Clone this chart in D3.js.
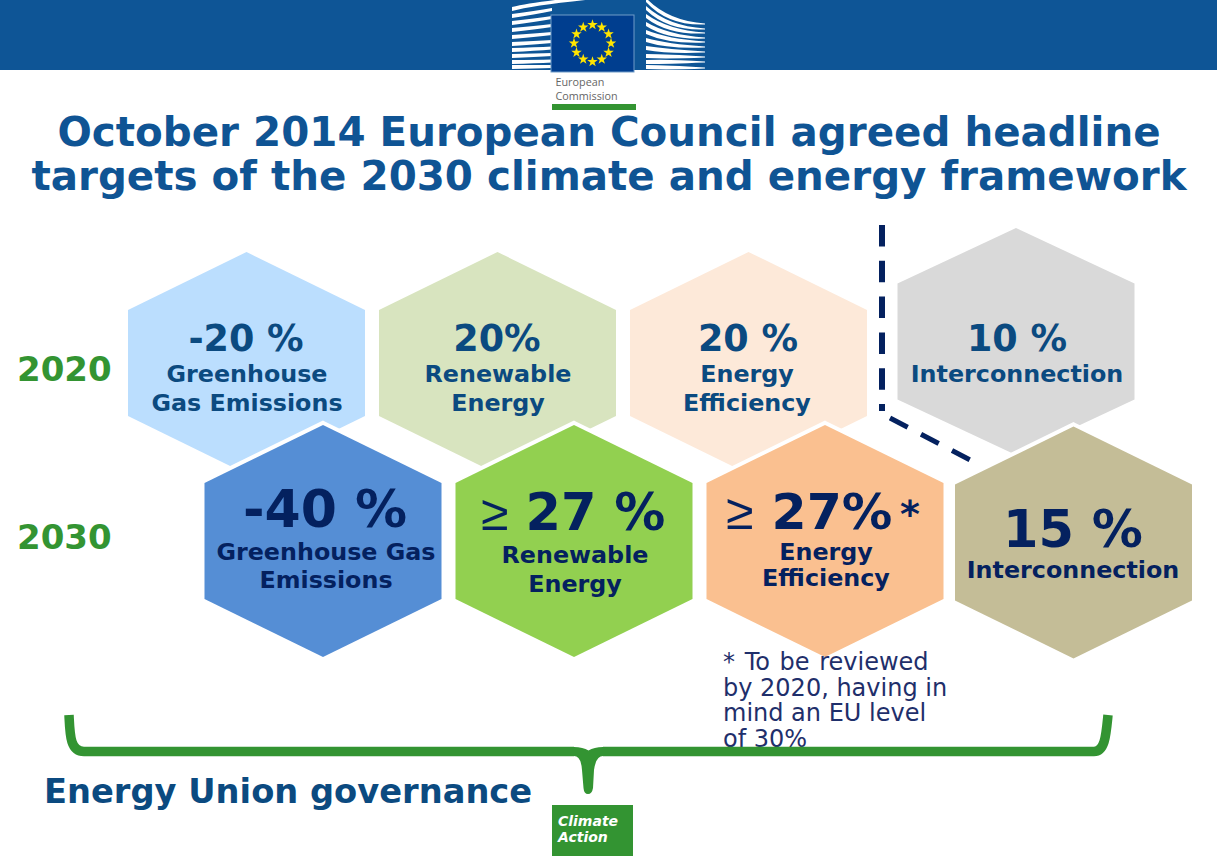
<!DOCTYPE html>
<html lang="en">
<head>
<meta charset="UTF-8">
<title>2030 climate and energy framework</title>
<script src="https://d3js.org/d3.v7.min.js"></script>
<style>
  html, body { margin: 0; padding: 0; background: #fff; overflow: hidden; }
  svg { display: block; }
  text { font-family: "DejaVu Sans", sans-serif; }
</style>
</head>
<body>
<svg id="chart" width="1217" height="856"></svg>
<script>
const titleLines = ["October 2014 European Council agreed headline", "targets of the 2030 climate and energy framework"];
const categories = ["ghg", "renewable", "efficiency", "interconnection"];
const years = ["2020", "2030"];
const values2020 = ["-20 %", "20%", "20 %", "10 %"];
const prefix2030 = ["", "≥", "≥", ""];
const values2030 = ["-40 %", "27 %", "27%", "15 %"];
const labels2020 = [["Greenhouse", "Gas Emissions"], ["Renewable", "Energy"], ["Energy", "Efficiency"], ["Interconnection"]];
const labels2030 = [["Greenhouse Gas", "Emissions"], ["Renewable", "Energy"], ["Energy", "Efficiency"], ["Interconnection"]];
const colors2020 = ["#bbdefe", "#d8e4bf", "#fde9d9", "#d9d9d9"];
const colors2030 = ["#558ed5", "#92d050", "#fac090", "#c4bd97"];
const footnote = ["* To be reviewed", "by 2020, having in", "mind an EU level", "of 30%"];

const blue = "#0f5494", dark = "#0b4a80", navy = "#04215f", green = "#339432";

const svg = d3.select("#chart");

// header band
svg.append("rect").attr("width", 1217).attr("height", 70).attr("fill", "#0e5596");

// berlaymont stripes, left wing then right wing
const stripes = svg.append("g").attr("fill", "#fff");
const leftStripes = [[9, 7], [16, 6], [23, 5], [30, 4], [37, 3], [44, 2], [50, 1.5], [56, 1], [62, 0.5], [67, 0]];
leftStripes.forEach(([y, rise], i) => {
  const reach = i == 0 ? 606 : 552;
  const lift = i == 0 ? 12 : rise;
  const p = d3.path();
  p.moveTo(512, y - 2);
  p.quadraticCurveTo(535, y - 2 - lift * 0.5, reach, y - 2 - lift);
  p.lineTo(reach, y + 1 - lift);
  p.quadraticCurveTo(535, y + 1.5 - lift * 0.5, 512, y + 2);
  p.closePath();
  stripes.append("path").attr("d", p.toString());
});
const rightStripes = [[0, 24], [8, 29], [16, 33], [24, 38], [32, 42], [40, 47], [48, 52], [56, 57], [62, 62], [67, 68]];
rightStripes.forEach(([y0, y1]) => {
  const p = d3.path();
  p.moveTo(646, y0 - 2);
  p.quadraticCurveTo(668, y1 - 3, 705, y1 - 0.5);
  p.lineTo(705, y1 + 0.5);
  p.quadraticCurveTo(668, y1 + 2, 646, y0 + 2);
  p.closePath();
  stripes.append("path").attr("d", p.toString());
});

// flag
svg.append("rect").attr("x", 551).attr("y", 15).attr("width", 83).attr("height", 57)
  .attr("fill", "#003e8f").attr("stroke", "#6f9bc8").attr("stroke-width", 1);
const star = d3.symbol().type(d3.symbolStar).size(34);
d3.range(12).forEach(i => {
  const a = i * Math.PI / 6;
  svg.append("path").attr("d", star)
    .attr("transform", `translate(${592.5 + 18.5 * Math.sin(a)},${43.3 - 18.5 * Math.cos(a)})`)
    .attr("fill", "#ffe500");
});
["European", "Commission"].forEach((t, i) => {
  svg.append("text").attr("x", 555.5).attr("y", 86 + i * 13.5).text(t)
    .attr("fill", "#666").attr("font-size", 10.8)
    .style("font-family", "'Open Sans', sans-serif");
});
svg.append("rect").attr("x", 552).attr("y", 104).attr("width", 84).attr("height", 6).attr("fill", green);

// title
svg.selectAll(".title").data(titleLines).join("text")
  .attr("class", "title")
  .attr("x", 609).attr("y", (d, i) => 146 + i * 44)
  .attr("text-anchor", "middle")
  .attr("font-size", 40.4).attr("font-weight", "bold").attr("fill", blue)
  .text(d => d);

// hexagons
const x2020 = d3.scaleOrdinal().domain(categories).range([246.5, 497.5, 748.5, 1016]);
const x2030 = d3.scaleOrdinal().domain(categories).range([323, 574, 825, 1073.5]);
const y2020 = d3.scaleOrdinal().domain(categories).range([363, 363, 363, 341.5]);
const y2030 = d3.scaleOrdinal().domain(categories).range([541, 541, 541, 542.5]);
const halfH2020 = d3.scaleOrdinal().domain(categories).range([111, 111, 111, 113.5]);
const shoulder2020 = d3.scaleOrdinal().domain(categories).range([53, 53, 53, 58]);
const hexW = 118.5;
const hexLine = d3.line();
const hexPath = (cx, cy, h, s) => hexLine([
  [cx, cy - h], [cx + hexW, cy - s], [cx + hexW, cy + s],
  [cx, cy + h], [cx - hexW, cy + s], [cx - hexW, cy - s]
]) + "Z";

categories.forEach((c, i) => {
  svg.append("path").attr("d", hexPath(x2020(c), y2020(c), halfH2020(c), shoulder2020(c))).attr("fill", colors2020[i]);
});

// dashes between the interconnection target and the rest
svg.append("path").attr("d", hexLine([[882, 225], [882, 411]]))
  .attr("fill", "none").attr("stroke", navy).attr("stroke-width", 6).attr("stroke-dasharray", "21.5 14.3");
svg.append("path").attr("d", hexLine([[890, 418], [972, 461]]))
  .attr("fill", "none").attr("stroke", navy).attr("stroke-width", 5).attr("stroke-dasharray", "20 15");

categories.forEach((c, i) => {
  svg.append("path").attr("d", hexPath(x2030(c), y2030(c), 116, 58))
    .attr("fill", colors2030[i]).attr("stroke", "#fff").attr("stroke-width", 8)
    .attr("paint-order", "stroke");
});

// 2020 texts
const text2020 = svg.append("g").attr("text-anchor", "middle").attr("font-weight", "bold").attr("fill", dark);
const valueX2020 = [246, 497, 748, 1017];
const labelX2020 = [247, 498, 747, 1017];
categories.forEach((c, i) => {
  text2020.append("text").attr("x", valueX2020[i]).attr("y", 351).attr("font-size", 36.5).text(values2020[i]);
  labels2020[i].forEach((t, j) => {
    text2020.append("text").attr("x", labelX2020[i]).attr("y", 382 + j * 29).attr("font-size", 23.8).text(t);
  });
});

// 2030 texts
const text2030 = svg.append("g").attr("text-anchor", "middle").attr("font-weight", "bold").attr("fill", navy);
const valueX2030 = [325, 595.5, 832, 1073];
const valueY2030 = [527, 530, 529, 547];
const valueSize2030 = [52, 51, 50.5, 51];
const prefixX2030 = [0, 481, 726, 0];
const labelX2030 = [326, 575, 826, 1073];
const labelY2030 = [560, 563, 560, 578];
const labelStep2030 = [28, 29, 26, 0];
categories.forEach((c, i) => {
  text2030.append("text").attr("x", valueX2030[i]).attr("y", valueY2030[i]).attr("font-size", valueSize2030[i]).text(values2030[i]);
  if (prefix2030[i]) {
    text2030.append("text").attr("x", prefixX2030[i]).attr("y", valueY2030[i])
      .attr("text-anchor", "start").attr("font-weight", "normal").attr("font-size", 50)
      .style("font-family", "'Liberation Sans', sans-serif").text(prefix2030[i]);
  }
  labels2030[i].forEach((t, j) => {
    text2030.append("text").attr("x", labelX2030[i]).attr("y", labelY2030[i] + j * labelStep2030[i]).attr("font-size", 23.8).text(t);
  });
});
text2030.append("text").attr("x", 910).attr("y", 527).attr("font-size", 38).text("*");

// year labels
svg.selectAll(".year").data(years).join("text")
  .attr("class", "year").attr("x", 17).attr("y", (d, i) => i ? 549 : 381)
  .attr("font-size", 34).attr("font-weight", "bold").attr("fill", green).text(d => d);

// footnote
svg.selectAll(".note").data(footnote).join("text")
  .attr("class", "note").attr("x", 723).attr("y", (d, i) => 670 + i * 25.5)
  .attr("font-size", 24).attr("fill", "#1f2f6b")
  .attr("word-spacing", (d, i) => i ? 0 : 2).text(d => d);

// bracket
const bracket = d3.path();
bracket.moveTo(69, 715);
bracket.bezierCurveTo(70, 735, 70, 751.5, 84, 751.5);
bracket.lineTo(1094, 751.5);
bracket.bezierCurveTo(1105, 751.5, 1106, 735, 1108, 715);
svg.append("path").attr("d", bracket.toString()).attr("fill", "none")
  .attr("stroke", green).attr("stroke-width", 9.5).attr("stroke-linecap", "butt");
const spike = d3.path();
spike.moveTo(574, 747);
spike.quadraticCurveTo(583, 747, 588.5, 750.5);
spike.quadraticCurveTo(594, 747, 603, 747);
spike.lineTo(603, 756);
spike.quadraticCurveTo(596, 756, 594, 770);
spike.lineTo(593, 788);
spike.quadraticCurveTo(592, 794, 588, 794);
spike.quadraticCurveTo(584, 794, 583.5, 788);
spike.lineTo(582, 770);
spike.quadraticCurveTo(581, 756, 574, 756);
spike.closePath();
svg.append("path").attr("d", "M574,746H603V757H574Z").attr("fill", "#fff");
svg.append("path").attr("d", spike.toString()).attr("fill", green);

svg.append("text").attr("x", 44).attr("y", 803).attr("font-size", 33.7).attr("font-weight", "bold")
  .attr("fill", dark).text("Energy Union governance");

// climate action tag
svg.append("rect").attr("x", 552).attr("y", 805).attr("width", 81).attr("height", 51).attr("fill", green);
["Climate", "Action"].forEach((t, i) => {
  svg.append("text").attr("x", 558).attr("y", 826 + i * 16).text(t)
    .attr("font-size", 14).attr("font-weight", "bold").attr("font-style", "italic").attr("fill", "#fff");
});
</script>
</body>
</html>
